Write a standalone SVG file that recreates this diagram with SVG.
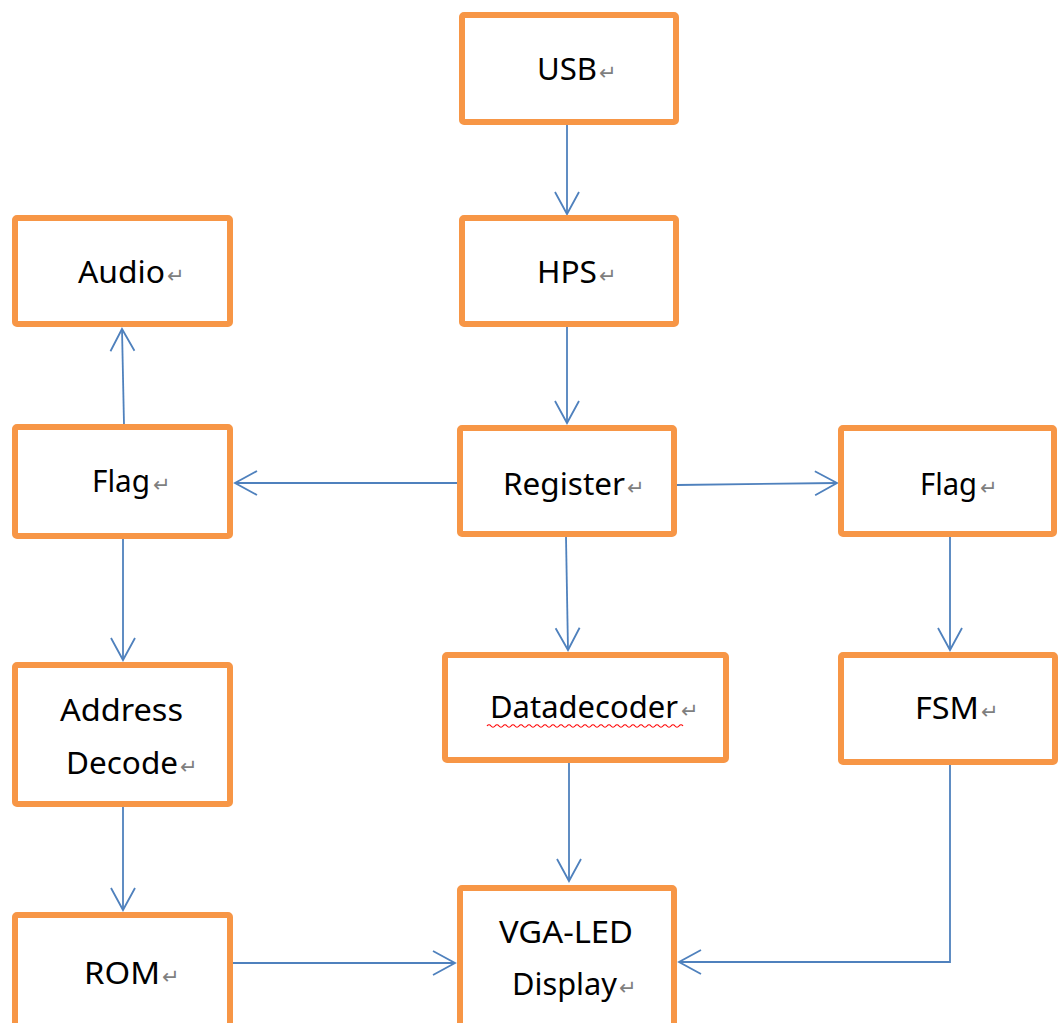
<svg xmlns="http://www.w3.org/2000/svg" width="1059" height="1023" viewBox="0 0 1059 1023">
  <defs>
    <style>
      .box { fill: #ffffff; stroke: #F79646; stroke-width: 6; }
      .lbl { font-family: "Noto Sans", "Open Sans", sans-serif; font-size: 31px; fill: #000000; }
      .ret { font-family: "DejaVu Sans", sans-serif; font-size: 21px; fill: #7f7f7f; }
      .wire { fill: none; stroke: #4F81BD; stroke-width: 1.8; }
      .squig { fill: none; stroke: #FF0000; stroke-width: 1.2; }
    </style>
    <marker id="arrow" markerUnits="userSpaceOnUse" markerWidth="30" markerHeight="30" viewBox="-24 -15 30 30" refX="0" refY="0" orient="auto">
      <path d="M -22 -12 L 0 0 L -22 12" fill="none" stroke="#4F81BD" stroke-width="1.8"/>
    </marker>
  </defs>

  <rect width="1059" height="1023" fill="#ffffff"/>

  <!-- connectors -->
  <g id="connectors">
    <path class="wire" d="M 567 125 L 567 214" marker-end="url(#arrow)"/>
    <path class="wire" d="M 567 327 L 567 423" marker-end="url(#arrow)"/>
    <path class="wire" d="M 124 425 L 122 329" marker-end="url(#arrow)"/>
    <path class="wire" d="M 458 483 L 235 483" marker-end="url(#arrow)"/>
    <path class="wire" d="M 677 485 L 837 483" marker-end="url(#arrow)"/>
    <path class="wire" d="M 566 537 L 568 650" marker-end="url(#arrow)"/>
    <path class="wire" d="M 123 537 L 123 660" marker-end="url(#arrow)"/>
    <path class="wire" d="M 950 537 L 950 650" marker-end="url(#arrow)"/>
    <path class="wire" d="M 123 807 L 123 910" marker-end="url(#arrow)"/>
    <path class="wire" d="M 569 763 L 569 881" marker-end="url(#arrow)"/>
    <path class="wire" d="M 233 963 L 455 963" marker-end="url(#arrow)"/>
    <path class="wire" d="M 950 765 L 950 962 L 679 962" marker-end="url(#arrow)"/>
  </g>

  <!-- nodes -->
  <g id="usb">
    <rect class="box" x="462" y="15" width="214" height="107" rx="2"/>
    <text class="lbl" x="537" y="80" textLength="60" lengthAdjust="spacingAndGlyphs">USB</text>
    <text class="ret" x="599" y="80">↵</text>
  </g>
  <g id="hps">
    <rect class="box" x="462" y="218" width="214" height="106" rx="2"/>
    <text class="lbl" x="537" y="283" textLength="60" lengthAdjust="spacingAndGlyphs">HPS</text>
    <text class="ret" x="599" y="283">↵</text>
  </g>
  <g id="audio">
    <rect class="box" x="15" y="218" width="215" height="106" rx="2"/>
    <text class="lbl" x="78" y="283" textLength="87" lengthAdjust="spacingAndGlyphs">Audio</text>
    <text class="ret" x="167" y="283">↵</text>
  </g>
  <g id="flag-left">
    <rect class="box" x="15" y="427" width="215" height="109" rx="2"/>
    <text class="lbl" x="92" y="492" textLength="58" lengthAdjust="spacingAndGlyphs">Flag</text>
    <text class="ret" x="153" y="492">↵</text>
  </g>
  <g id="register">
    <rect class="box" x="460" y="428" width="214" height="106" rx="2"/>
    <text class="lbl" x="503" y="495" textLength="122" lengthAdjust="spacingAndGlyphs">Register</text>
    <text class="ret" x="627" y="495">↵</text>
  </g>
  <g id="flag-right">
    <rect class="box" x="841" y="428" width="213" height="106" rx="2"/>
    <text class="lbl" x="920" y="495" textLength="57" lengthAdjust="spacingAndGlyphs">Flag</text>
    <text class="ret" x="980" y="495">↵</text>
  </g>
  <g id="address-decode">
    <rect class="box" x="15" y="665" width="215" height="139" rx="2"/>
    <text class="lbl" x="60" y="721" textLength="123" lengthAdjust="spacingAndGlyphs">Address</text>
    <text class="lbl" x="66" y="774" textLength="112" lengthAdjust="spacingAndGlyphs">Decode</text>
    <text class="ret" x="180" y="774">↵</text>
  </g>
  <g id="datadecoder">
    <rect class="box" x="445" y="655" width="281" height="105" rx="2"/>
    <text class="lbl" x="490" y="718" textLength="188" lengthAdjust="spacingAndGlyphs">Datadecoder</text>
    <text class="ret" x="681" y="718">↵</text>
    <path class="squig" d="M 487 726 q 2 -2.5 4 0 t 4 0 t 4 0 t 4 0 t 4 0 t 4 0 t 4 0 t 4 0 t 4 0 t 4 0 t 4 0 t 4 0 t 4 0 t 4 0 t 4 0 t 4 0 t 4 0 t 4 0 t 4 0 t 4 0 t 4 0 t 4 0 t 4 0 t 4 0 t 4 0 t 4 0 t 4 0 t 4 0 t 4 0 t 4 0 t 4 0 t 4 0 t 4 0 t 4 0 t 4 0 t 4 0 t 4 0 t 4 0 t 4 0 t 4 0 t 4 0 t 4 0 t 4 0 t 4 0 t 4 0 t 4 0 t 4 0 t 4 0 t 4 0"/>
  </g>
  <g id="fsm">
    <rect class="box" x="841" y="655" width="214" height="107" rx="2"/>
    <text class="lbl" x="915" y="719" textLength="64" lengthAdjust="spacingAndGlyphs">FSM</text>
    <text class="ret" x="981" y="719">↵</text>
  </g>
  <g id="rom">
    <rect class="box" x="15" y="915" width="215" height="114" rx="2"/>
    <text class="lbl" x="84" y="984" textLength="76" lengthAdjust="spacingAndGlyphs">ROM</text>
    <text class="ret" x="162" y="984">↵</text>
  </g>
  <g id="vga-led-display">
    <rect class="box" x="460" y="888" width="214" height="145" rx="2"/>
    <text class="lbl" x="499" y="943" textLength="134" lengthAdjust="spacingAndGlyphs">VGA-LED</text>
    <text class="lbl" x="512" y="995" textLength="105" lengthAdjust="spacingAndGlyphs">Display</text>
    <text class="ret" x="619" y="995">↵</text>
  </g>
</svg>
